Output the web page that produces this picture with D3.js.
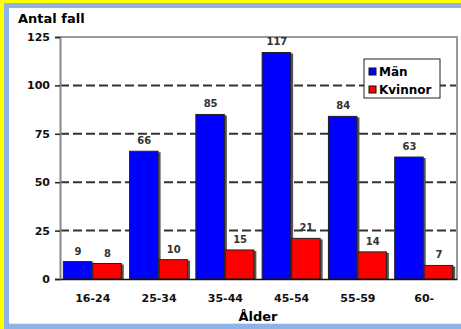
<!DOCTYPE html>
<html>
<head>
<meta charset="utf-8">
<script src="https://cdn.jsdelivr.net/npm/d3@7"></script>
<style>
  body { margin: 0; background: #fff; }
  svg { display: block; font-family: "DejaVu Sans", Verdana, sans-serif; }
</style>
</head>
<body>
<svg width="461" height="329"></svg>
<script>
const categories = ['16-24', '25-34', '35-44', '45-54', '55-59', '60-'];
const man = [9, 66, 85, 117, 84, 63];
const kvinnor = [8, 10, 15, 21, 14, 7];
const seriesNames = ['Män', 'Kvinnor'];
const seriesColors = ['#0000ff', '#ff0000'];
const yTicks = [0, 25, 50, 75, 100, 125];

const svg = d3.select('svg');

// frame: yellow and light blue strips
svg.append('rect').attr('x', 0).attr('y', 0).attr('width', 461).attr('height', 329).attr('fill', '#8fb3e6');
svg.append('rect').attr('x', 0).attr('y', 0).attr('width', 461).attr('height', 3).attr('fill', '#ffff00');
svg.append('rect').attr('x', 0).attr('y', 0).attr('width', 4).attr('height', 329).attr('fill', '#ffff00');
svg.append('rect').attr('x', 9).attr('y', 8).attr('width', 452).attr('height', 316).attr('fill', '#dde6f5');
svg.append('rect').attr('x', 9).attr('y', 8).attr('width', 452).attr('height', 315).attr('fill', '#fff');

const plotL = 60, plotR = 457, plotT = 37, plotB = 279;

const x = d3.scaleBand().domain(categories).range([plotL, plotR]).paddingInner(0.11).paddingOuter(0.05);
const xs = d3.scaleBand().domain(seriesNames).range([0, x.bandwidth()]);
const y = d3.scaleLinear().domain([0, 125]).range([plotB, plotT]);

// grid lines
svg.append('g').selectAll('line').data(yTicks.filter(d => d > 0 && d < 125)).join('line')
  .attr('x1', plotL).attr('x2', plotR)
  .attr('y1', d => y(d)).attr('y2', d => y(d))
  .attr('stroke', '#333').attr('stroke-width', 2).attr('stroke-dasharray', '9,4');

// plot border top and right
svg.append('path')
  .attr('d', `M${plotL},${plotT}H${plotR}V${plotB}`)
  .attr('fill', 'none').attr('stroke', '#999').attr('stroke-width', 2);

const rows = categories.map((c, i) => ({ cat: c, vals: [man[i], kvinnor[i]] }));

const groups = svg.append('g').selectAll('g').data(rows).join('g')
  .attr('transform', d => `translate(${x(d.cat)},0)`);

const bars = groups.selectAll('g').data(d => d.vals.map((v, j) => ({ v, s: seriesNames[j], c: seriesColors[j] }))).join('g');

// shadow
bars.append('rect')
  .attr('x', d => xs(d.s) + 1.5).attr('y', d => y(d.v) + 1)
  .attr('width', xs.bandwidth()).attr('height', d => plotB - y(d.v) - 1)
  .attr('fill', '#555');

bars.append('rect')
  .attr('x', d => xs(d.s)).attr('y', d => y(d.v))
  .attr('width', xs.bandwidth() - 1).attr('height', d => plotB - y(d.v))
  .attr('fill', d => d.c).attr('stroke', '#222').attr('stroke-width', 1);

bars.append('text')
  .attr('x', d => xs(d.s) + xs.bandwidth() / 2).attr('y', d => y(d.v) - 7)
  .attr('text-anchor', 'middle').attr('font-size', 10).attr('font-weight', 'bold').attr('fill', '#333')
  .text(d => d.v);

// y axis
const yAxis = svg.append('g').attr('transform', `translate(${plotL},0)`)
  .call(d3.axisLeft(y).tickValues(yTicks).tickSize(5).tickPadding(5));
yAxis.select('.domain').attr('stroke', '#888').attr('stroke-width', 2);
yAxis.selectAll('.tick line').attr('stroke', '#222').attr('stroke-width', 1.5);
yAxis.selectAll('text').attr('font-size', 11).attr('font-weight', 'bold').attr('fill', '#111')
  .attr('font-family', '"DejaVu Sans", sans-serif');

// x axis
const xAxis = svg.append('g').attr('transform', `translate(0,${plotB})`)
  .call(d3.axisBottom(x).tickSize(0).tickPadding(15));
xAxis.select('.domain').attr('stroke', '#111').attr('stroke-width', 1.5);
xAxis.selectAll('text').attr('font-size', 11).attr('font-weight', 'bold').attr('fill', '#111')
  .attr('font-family', '"DejaVu Sans", sans-serif');

// titles
svg.append('text').attr('x', 18).attr('y', 23).attr('font-size', 13).attr('font-weight', 'bold').text('Antal fall');
svg.append('text').attr('x', 258).attr('y', 321).attr('text-anchor', 'middle')
  .attr('font-size', 13).attr('font-weight', 'bold').text('Ålder');

// legend
const legend = svg.append('g').attr('transform', 'translate(364,59)');
legend.append('rect').attr('width', 76).attr('height', 39).attr('fill', '#fff').attr('stroke', '#222').attr('stroke-width', 1);
const li = legend.selectAll('g').data(seriesNames).join('g')
  .attr('transform', (d, i) => `translate(5,${9 + i * 18})`);
li.append('rect').attr('width', 7).attr('height', 7).attr('fill', (d, i) => seriesColors[i]).attr('stroke', '#111');
li.append('text').attr('x', 10).attr('y', 8).attr('font-size', 12).attr('font-weight', 'bold').text(d => d);
</script>
</body>
</html>
